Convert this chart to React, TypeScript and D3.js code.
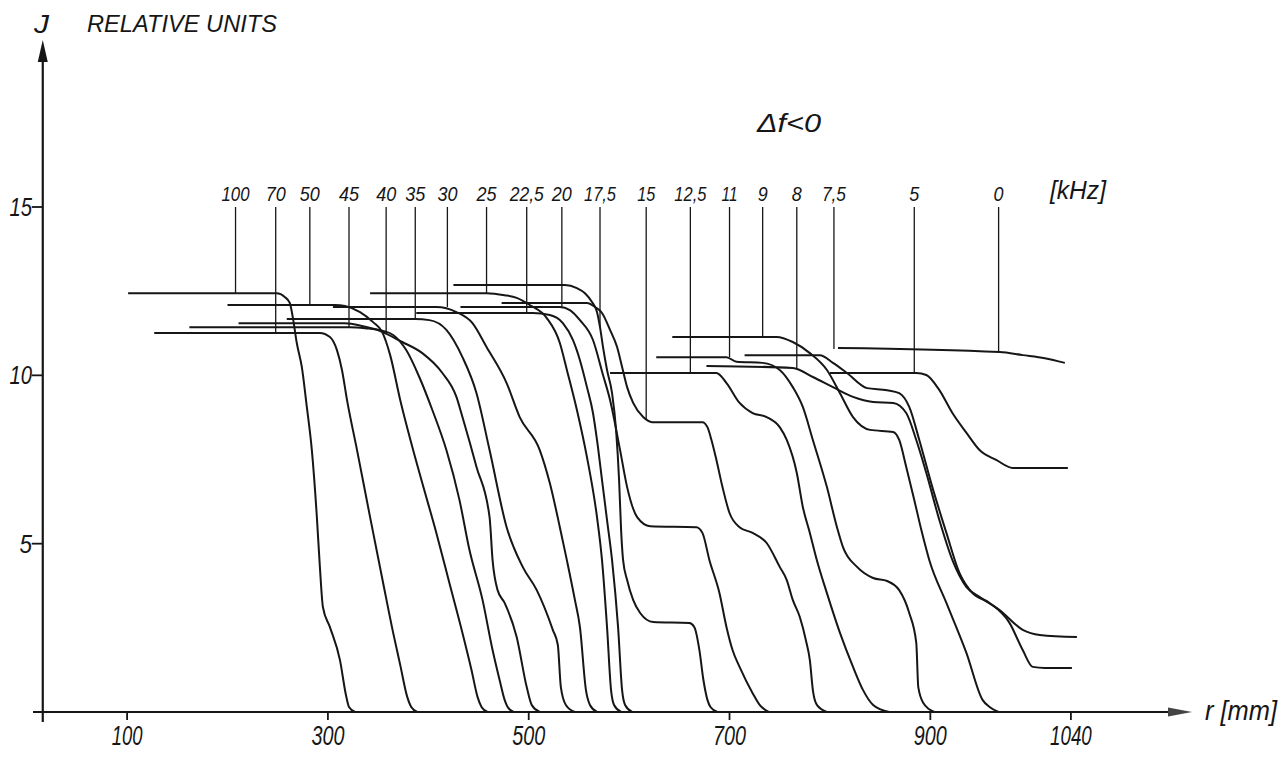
import React from "react";
import * as d3 from "d3";

type Pt = [number, number];

// r [mm], J [relative units]
const c100: Pt[] = [[101,12.44],[249,12.44],[257,12.33],[262,12.15],[265,11.73],[269,10.96],[274,10.25],[279,9.06],[284,7.78],[289,5.79],[292,4.31],[295,3.12],[302,2.52],[312,1.54],[318,0.5],[321,0.15],[327,0]];
const c70: Pt[] = [[127,11.26],[292,11.26],[302,11.14],[309,10.75],[314,10.16],[319,9.27],[329,7.78],[342,5.79],[355,3.83],[365,2.35],[372,1.4],[379,0.45],[383,0.15],[389,0]];
const c50: Pt[] = [[200,12.09],[307,12.09],[317,12.06],[332,11.88],[345,11.58],[354,11.29],[362,10.6],[372,9.27],[383,7.99],[394,6.8],[408,5.32],[421,3.83],[434,2.35],[443,1.25],[449,0.45],[453,0.15],[459,0]];
const c45: Pt[] = [[162,11.43],[322,11.43],[337,11.4],[355,11.32],[365,11.2],[378,10.75],[391,9.95],[404,8.97],[418,7.78],[431,6.3],[441,4.81],[454,3.33],[464,1.84],[471,0.95],[476,0.36],[479,0.15],[485,0]];
const c40: Pt[] = [[211,11.55],[317,11.55],[335,11.46],[349,11.35],[374,10.99],[394,10.66],[414,10.07],[428,9.36],[434,8.76],[448,7.28],[461,5.79],[464,4.51],[469,3.62],[476,3.24],[488,2.23],[498,0.74],[503,0.21],[511,0]];
const c35: Pt[] = [[259,11.67],[387,11.67],[401,11.64],[418,11.35],[434,10.54],[448,9.47],[461,7.78],[478,5.49],[494,4.31],[508,3.62],[524,2.44],[529,1.99],[532,0.74],[537,0.21],[546,0]];
const c30: Pt[] = [[305,12.03],[408,12.03],[428,11.88],[444,11.55],[458,10.84],[478,9.77],[491,8.76],[511,7.78],[521,6.8],[531,5.49],[538,4.51],[546,3.33],[551,2.52],[557,0.65],[561,0.21],[568,0]];
const c25: Pt[] = [[342,12.44],[458,12.44],[476,12.38],[488,12.3],[501,12.09],[518,11.7],[531,10.96],[538,10.16],[548,8.97],[558,7.57],[568,5.79],[573,4.51],[578,2.52],[582,0.65],[585,0.21],[592,0]];
const c225: Pt[] = [[388,11.85],[504,11.85],[521,11.79],[534,11.55],[544,11.05],[551,10.45],[558,9.65],[564,8.88],[568,8.08],[573,6.89],[578,5.7],[583,4.51],[589,2.52],[593,0.65],[596,0.21],[603,0]];
const c20: Pt[] = [[432,12.03],[531,12.03],[541,11.94],[551,11.64],[564,11.05],[574,10.01],[581,9.27],[591,7.78],[598,6.68],[608,5.79],[621,5.52],[667,5.49],[673,5.32],[680,4.51],[690,3.53],[697,2.52],[703,1.84],[710,1.34],[723,0.56],[730,0.21],[739,0]];
const c175: Pt[] = [[425,12.68],[536,12.68],[548,12.59],[556,12.44],[563,12.18],[568,11.88],[571,11.43],[574,10.84],[578,10.16],[583,9.47],[587,8.38],[590,6.89],[592,5.41],[594,4.51],[598,3.92],[604,3.33],[611,2.94],[624,2.67],[660,2.64],[665,2.52],[670,1.84],[674,0.95],[678,0.36],[681,0.15],[688,0]];
const c15: Pt[] = [[473,12.15],[558,12.15],[566,12.03],[573,11.85],[581,11.35],[588,10.84],[593,10.25],[598,9.65],[604,9.18],[614,8.76],[623,8.61],[673,8.61],[678,8.46],[682,8.08],[687,7.48],[693,6.68],[700,5.91],[710,5.49],[723,5.32],[737,5.02],[750,4.31],[757,3.92],[763,3.33],[770,2.82],[776,2.14],[780,1.54],[783,0.65],[787,0.21],[797,0]];
const c125: Pt[] = [[581,10.07],[687,10.07],[697,9.77],[710,9.18],[723,8.88],[737,8.76],[750,8.46],[757,8.08],[767,7.1],[773,6.09],[780,5.32],[787,4.51],[797,3.53],[810,2.35],[823,1.34],[833,0.65],[843,0.21],[859,0]];
const c11: Pt[] = [[627,10.54],[697,10.54],[707,10.4],[733,10.37],[750,10.16],[763,9.65],[773,9.06],[783,8.08],[797,6.68],[807,5.49],[813,4.9],[827,4.31],[843,3.98],[857,3.89],[869,3.62],[879,2.94],[886,2.05],[888,0.74],[893,0.27],[904,0]];
const c9: Pt[] = [[643,11.14],[747,11.14],[763,10.99],[780,10.66],[797,10.16],[810,9.47],[823,8.76],[840,8.38],[863,8.32],[869,8.08],[876,7.28],[884,6.3],[891,5.41],[899,4.51],[916,3.24],[936,1.75],[952,0.36],[959,0.15],[968,0]];
const c8: Pt[] = [[677,10.28],[763,10.22],[783,9.95],[803,9.65],[823,9.36],[843,9.21],[863,9.18],[876,8.88],[886,8.08],[896,7.1],[909,5.7],[922,4.51],[936,3.71],[949,3.42],[969,3.03],[992,2.44],[1009,2.29],[1046,2.23]];
const c75: Pt[] = [[715,10.6],[790,10.6],[803,10.37],[817,10.07],[837,9.62],[857,9.56],[869,9.47],[879,9.06],[889,8.08],[902,6.68],[916,5.32],[929,4.13],[942,3.53],[959,3.24],[979,2.64],[992,1.84],[1002,1.34],[1014,1.31],[1041,1.31]];
const c5: Pt[] = [[800,10.07],[886,10.07],[896,10.01],[909,9.56],[922,8.88],[936,8.29],[949,7.78],[966,7.48],[982,7.25],[1037,7.25]];
const c0: Pt[] = [[808,10.81],[969,10.69],[992,10.6],[1014,10.51],[1034,10.37]];

const curves = [c100, c70, c50, c45, c40, c35, c30, c25, c225, c20, c175, c15, c125, c11, c9, c8, c75, c5, c0];

// frequency labels with their leader lines (position in r, end level in J)
const freqLabels = ["100", "70", "50", "45", "40", "35", "30", "25", "22,5", "20", "17,5", "15", "12,5", "11", "9", "8", "7,5", "5", "0"];
const leaderR = [208, 248, 282, 321, 358, 387, 419, 458, 498, 533, 571, 617, 661, 700, 733, 767, 804, 884, 968];
const leaderEndJ = [12.44, 11.26, 12.09, 11.43, 11.22, 11.67, 12.03, 12.44, 11.85, 12.03, 11.43, 8.7, 10.07, 10.54, 11.14, 10.17, 10.78, 10.07, 10.69];

const xTicks = [100, 300, 500, 700, 900, 1040];
const yTicks = [5, 10, 15];

const ink = "#161616";
const font = "'Liberation Sans', Arial, sans-serif";

// narrow stencil-like lettering: squeeze each label to its measured width
const textW = (s: string, digit: number) =>
  s.split("").reduce((a, c) => a + (c === "," ? digit * 0.4 : c === "1" ? digit * 0.8 : digit), 0);

export default function App() {
  const x = d3.scaleLinear().domain([0, 1040]).range([26.7, 1070.9]);
  const y = d3.scaleLinear().domain([0, 15]).range([712, 207]);
  const line = d3
    .line<Pt>()
    .x((d) => x(d[0]))
    .y((d) => y(d[1]))
    .curve(d3.curveMonotoneX);

  const axisX = x(16);
  const axisY = y(0);

  return (
    <svg
      width={1287}
      height={757}
      style={{ position: "absolute", left: 0, top: 0, background: "#fff" }}
      fontFamily={font}
      fontStyle="italic"
    >
      <rect width={1287} height={757} fill="#fff" />

      {/* axes */}
      <line x1={axisX} x2={axisX} y1={58} y2={722} stroke={ink} strokeWidth={2.2} />
      <polygon points={`${axisX},40 ${axisX - 5},62 ${axisX + 5},62`} fill={ink} />
      <line x1={33} x2={1175} y1={axisY} y2={axisY} stroke={ink} strokeWidth={2.2} />
      <polygon points={`1192,${axisY} 1168,${axisY - 4.5} 1168,${axisY + 4.5}`} fill="#444" />

      {yTicks.map((t) => (
        <g key={t}>
          <line x1={axisX - 11} x2={axisX} y1={y(t)} y2={y(t)} stroke={ink} strokeWidth={1.8} />
          <text
            x={32}
            y={y(t) + 9}
            fontSize={26}
            textAnchor="end"
            fill={ink}
            textLength={textW(String(t), 12.5)}
            lengthAdjust="spacingAndGlyphs"
          >
            {t}
          </text>
        </g>
      ))}

      {xTicks.map((t) => (
        <g key={t}>
          <line x1={x(t)} x2={x(t)} y1={axisY} y2={axisY + 8} stroke={ink} strokeWidth={1.8} />
          <text
            x={x(t)}
            y={745}
            fontSize={28}
            textAnchor="middle"
            fill={ink}
            textLength={textW(String(t), 11)}
            lengthAdjust="spacingAndGlyphs"
          >
            {t}
          </text>
        </g>
      ))}

      {/* titles */}
      <text x={34} y={33} fontSize={26} fill={ink} textLength={15} lengthAdjust="spacingAndGlyphs">J</text>
      <text x={87} y={32} fontSize={24} fill={ink} textLength={190} lengthAdjust="spacingAndGlyphs">
        RELATIVE UNITS
      </text>
      <text x={757} y={132} fontSize={25} fill={ink} textLength={64} lengthAdjust="spacingAndGlyphs">
        Δf&lt;0
      </text>
      <text x={1050} y={199} fontSize={25} fill={ink} textLength={56} lengthAdjust="spacingAndGlyphs">
        [kHz]
      </text>
      <text x={1205} y={720} fontSize={27} fill={ink} textLength={72} lengthAdjust="spacingAndGlyphs">
        r [mm]
      </text>

      {/* leader lines and frequency labels */}
      {freqLabels.map((lab, i) => (
        <g key={lab}>
          <line
            x1={x(leaderR[i])}
            x2={x(leaderR[i])}
            y1={y(15)}
            y2={y(leaderEndJ[i])}
            stroke={ink}
            strokeWidth={1.3}
          />
          <text
            x={x(leaderR[i])}
            y={201}
            fontSize={21}
            textAnchor="middle"
            fill={ink}
            textLength={textW(lab, 10)}
            lengthAdjust="spacingAndGlyphs"
          >
            {lab}
          </text>
        </g>
      ))}

      {/* curves */}
      {curves.map((c, i) => (
        <path key={i} d={line(c) || ""} fill="none" stroke={ink} strokeWidth={2} strokeLinejoin="round" />
      ))}
    </svg>
  );
}
